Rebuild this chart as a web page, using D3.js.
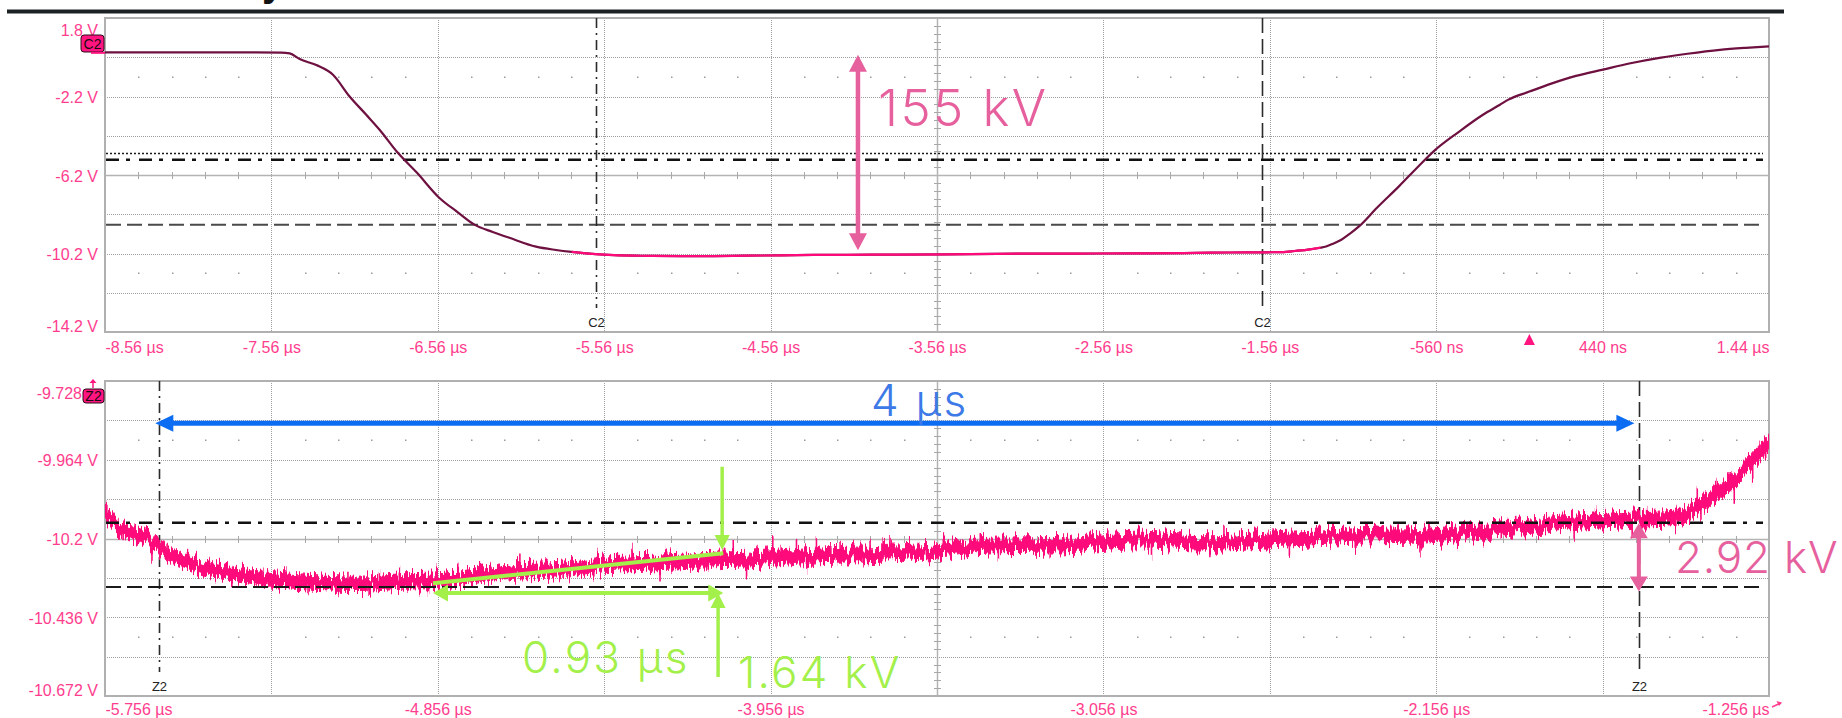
<!DOCTYPE html>
<html>
<head>
<meta charset="utf-8">
<script src="https://cdn.jsdelivr.net/npm/d3@7"></script>
<style>
  html, body { margin: 0; padding: 0; background: #ffffff; }
  svg { display: block; }
</style>
</head>
<body>
<svg id="chart" width="1842" height="718"></svg>
<script>
// ---------- Channel C2: full record (time in µs, level in V) ----------
const c2Time = [-8.56, -8.2, -7.8, -7.5, -7.45, -7.39, -7.29, -7.19, -7.09, -6.99, -6.91, -6.80,
  -6.685, -6.55, -6.44, -6.34, -6.23, -6.13, -5.97, -5.85, -5.756, -5.61, -5.5, -5.3, -5.1, -4.9,
  -4.7, -4.5, -4.3, -4.1, -3.8, -3.5, -3.2, -2.9, -2.6, -2.3, -2.0, -1.8, -1.608, -1.5, -1.43,
  -1.37, -1.31, -1.256, -1.222, -1.18, -1.13, -1.08, -1.024, -0.916, -0.784, -0.675, -0.564,
  -0.432, -0.279, -0.177, -0.126, 0.0, 0.136, 0.28, 0.442, 0.6, 0.791, 0.95, 1.145, 1.3, 1.44];
const c2Volt = [0.05, 0.05, 0.05, 0.04, 0.0, -0.29, -0.6, -1.09, -2.2, -3.13, -3.89, -5.07,
  -6.09, -7.37, -8.1, -8.73, -9.1, -9.40, -9.85, -10.02, -10.12, -10.235, -10.284, -10.32, -10.335, -10.33,
  -10.31, -10.295, -10.275, -10.265, -10.255, -10.24, -10.215, -10.205, -10.2, -10.195, -10.17, -10.15, -10.14, -10.13, -10.09,
  -10.045, -9.975, -9.905, -9.84, -9.7, -9.50, -9.2, -8.82, -7.87, -6.78, -5.83, -4.91,
  -4.05, -3.13, -2.62, -2.36, -1.95, -1.53, -1.15, -0.83, -0.52, -0.22, -0.02, 0.18, 0.28, 0.35];

// ---------- Zoom Z2 of the flat top: dense core of the noisy trace (µs, V) ----------
const z2Time = [-5.756, -5.714, -5.653, -5.611, -5.557, -5.497, -5.413, -5.315, -5.195, -5.075,
  -4.953, -4.857, -4.772, -4.652, -4.53, -4.41, -4.29, -4.168, -4.012, -3.832, -3.652, -3.517,
  -3.36, -3.163, -2.966, -2.768, -2.572, -2.375, -2.178, -1.98, -1.783, -1.608, -1.508, -1.43,
  -1.37, -1.31, -1.256];
const z2Low = [-10.142, -10.195, -10.215, -10.255, -10.279, -10.304, -10.324, -10.342, -10.352, -10.356,
  -10.349, -10.347, -10.334, -10.319, -10.315, -10.300, -10.295, -10.289, -10.285, -10.270, -10.265, -10.257,
  -10.240, -10.237, -10.225, -10.232, -10.223, -10.214, -10.210, -10.190, -10.170, -10.160, -10.155, -10.112,
  -10.067, -9.997, -9.927];
const z2High = [-10.102, -10.155, -10.175, -10.214, -10.239, -10.264, -10.284, -10.301, -10.311, -10.316,
  -10.309, -10.306, -10.294, -10.279, -10.275, -10.259, -10.254, -10.249, -10.244, -10.229, -10.224, -10.217,
  -10.199, -10.197, -10.184, -10.192, -10.182, -10.174, -10.169, -10.150, -10.130, -10.120, -10.115, -10.068,
  -10.023, -9.953, -9.883];

// Noise excursions that stand out of the core (µs, V)
const z2SpikeTime = [-5.751, -5.721, -5.707, -5.678, -5.629, -5.629, -5.588, -5.58, -5.533, -5.486, -5.472,
  -5.413, -5.413, -5.329, -5.315, -5.267, -5.207, -5.123, -5.099, -5.045, -5.014, -4.96, -4.953, -4.881,
  -4.857, -4.802, -4.785, -4.712, -4.663, -4.634, -4.556, -4.556, -4.517, -4.443, -4.434, -4.426, -4.399,
  -4.331, -4.326, -4.255, -4.237, -4.228, -4.129, -4.088, -4.057, -4.021, -3.993, -3.95, -3.949, -3.931,
  -3.886, -3.859, -3.853, -3.832, -3.793, -3.778, -3.768, -3.706, -3.694, -3.687, -3.655, -3.652, -3.633,
  -3.576, -3.561, -3.556, -3.535, -3.489, -3.389, -3.34, -3.3, -3.2, -3.163, -3.044, -2.926, -2.887,
  -2.768, -2.73, -2.611, -2.553, -2.455, -2.375, -2.317, -2.2, -2.178, -2.06, -1.98, -1.941, -1.824,
  -1.783, -1.725, -1.646, -1.626, -1.587, -1.508, -1.508, -1.45, -1.44, -1.40, -1.35, -1.33, -1.30,
  -1.28, -1.265];
const z2SpikeVolt = [-10.090, -10.135, -10.22, -10.154, -10.195, -10.264, -10.21, -10.254, -10.24, -10.304, -10.264,
  -10.279, -10.334, -10.284, -10.349, -10.289, -10.379, -10.364, -10.294, -10.379, -10.289, -10.284, -10.364, -10.364,
  -10.294, -10.284, -10.354, -10.279, -10.329, -10.254, -10.264, -10.324, -10.324, -10.304, -10.314, -10.249, -10.254,
  -10.234, -10.24, -10.314, -10.239, -10.244, -10.294, -10.229, -10.219, -10.314, -10.234, -10.205, -10.284, -10.219,
  -10.204, -10.294, -10.279, -10.199, -10.205, -10.279, -10.204, -10.284, -10.274, -10.204, -10.199, -10.274, -10.204,
  -10.264, -10.219, -10.21, -10.274, -10.199, -10.175, -10.269, -10.185, -10.254, -10.19, -10.175, -10.264, -10.185,
  -10.244, -10.165, -10.17, -10.249, -10.175, -10.234, -10.17, -10.239, -10.16, -10.16, -10.214, -10.135, -10.145,
  -10.195, -10.115, -10.124, -10.195, -10.105, -10.105, -10.175, -10.05, -10.15, -10.03, -10.09, -9.97, -10.03,
  -9.90, -9.96];

// ---------- Axis ticks ----------
const c2TimeTicks = [-8.56, -7.56, -6.56, -5.56, -4.56, -3.56, -2.56, -1.56, -0.56, 0.44, 1.44];
const c2TimeLabels = ["-8.56 µs", "-7.56 µs", "-6.56 µs", "-5.56 µs", "-4.56 µs", "-3.56 µs",
  "-2.56 µs", "-1.56 µs", "-560 ns", "440 ns", "1.44 µs"];
const c2VoltTicks = [1.8, -2.2, -6.2, -10.2, -14.2];
const c2VoltLabels = ["1.8 V", "-2.2 V", "-6.2 V", "-10.2 V", "-14.2 V"];
const z2TimeTicks = [-5.756, -4.856, -3.956, -3.056, -2.156, -1.256];
const z2TimeLabels = ["-5.756 µs", "-4.856 µs", "-3.956 µs", "-3.056 µs", "-2.156 µs", "-1.256 µs"];
const z2VoltTicks = [-9.728, -9.964, -10.2, -10.436, -10.672];
const z2VoltLabels = ["-9.728", "-9.964 V", "-10.2 V", "-10.436 V", "-10.672 V"];

// ---------- Cursors ----------
const cursorTimes = [-5.611, -1.608];          // time cursors (both panels)
const c2CursorLevels = [-5.10, -5.42, -8.73];  // dotted, dash-dot, dashed
const z2CursorLevels = [-10.1527, -10.3453];   // dash-dot, dashed
const triggerTime = [0];

// ---------- Annotations ----------
const swingLabel = ["155 kV"];
const swingArrowTime = [-4.035];
const swingArrowVolt = [-0.07, -10.04];
const spanLabel = ["4 µs"];
const spanArrowTime = [-5.62];
const spanArrowLength = [4];
const spanArrowVolt = [-9.8548];
const droopLabel = ["2.92 kV"];
const droopArrowTime = [-1.608];
const droopArrowVolt = [-10.1545, -10.359];
const slopeTime = [-4.869, -4.084];
const slopeVolt = [-10.334, -10.244];
const riseTimeLabel = ["0.93 µs"];
const riseArrowVolt = [-10.3633];
const riseStepLabel = ["1.64 kV"];
const downArrowTime = [-4.087];
const downArrowVolt = [-9.985, -10.2345];
const upArrowTime = [-4.098];
const upArrowVolt = [-10.615, -10.3633];

// ---------- Styling ----------
const PINK_LABEL = "#ff3d8e";
const TRACE_PINK = "#ff0a7a";
const TRACE_DARK = "#6e1040";
const ANN_PINK = "#e6609e";
const ANN_BLUE = "#0c6df2";
const ANN_BLUE_TEXT = "#3d7ae8";
const ANN_GREEN = "#a3f04a";
const AXIS_FONT = "'Liberation Sans', Arial, sans-serif";
const ANN_FONT = "Inter, 'Noto Sans', sans-serif";

const svg = d3.select("#chart");

// Header rule and the tail of the page title above the figure
svg.append("text").attr("x", 262).attr("y", -4)
  .attr("font-family", AXIS_FONT).attr("font-weight", "bold").attr("font-size", 40)
  .attr("fill", "#111").text("y");
svg.append("rect").attr("x", 7).attr("y", 9.5).attr("width", 1777).attr("height", 4).attr("fill", "#1c2124");

const panelTop = { x0: 105, x1: 1769, y0: 18, y1: 332 };
const panelBot = { x0: 105, x1: 1769, y0: 381, y1: 696 };

const xTop = d3.scaleLinear().domain([c2TimeTicks[0], c2TimeTicks[c2TimeTicks.length - 1]]).range([panelTop.x0, panelTop.x1]);
const yTop = d3.scaleLinear().domain([c2VoltTicks[c2VoltTicks.length - 1], c2VoltTicks[0]]).range([panelTop.y1, panelTop.y0]);
const xBot = d3.scaleLinear().domain([z2TimeTicks[0], z2TimeTicks[z2TimeTicks.length - 1]]).range([panelBot.x0, panelBot.x1]);
const yBot = d3.scaleLinear().domain([z2VoltTicks[z2VoltTicks.length - 1], z2VoltTicks[0]]).range([panelBot.y1, panelBot.y0]);

// Oscilloscope graticule: 10 x 8 divisions, dotted lines, solid centre axes with sub-ticks
function graticule(p) {
  const g = svg.append("g");
  const dx = (p.x1 - p.x0) / 10, dy = (p.y1 - p.y0) / 8;
  for (let i = 1; i < 10; i++) {
    const x = Math.round(p.x0 + i * dx) + 0.5;
    g.append("line").attr("x1", x).attr("x2", x).attr("y1", p.y0).attr("y2", p.y1)
      .attr("stroke", i === 5 ? "#b4b4b4" : "#a0a0a0").attr("stroke-width", i === 5 ? 1.5 : 1)
      .attr("stroke-dasharray", i === 5 ? null : "1,1");
  }
  for (let j = 1; j < 8; j++) {
    const y = Math.round(p.y0 + j * dy) + 0.5;
    g.append("line").attr("x1", p.x0).attr("x2", p.x1).attr("y1", y).attr("y2", y)
      .attr("stroke", j === 4 ? "#b4b4b4" : "#a0a0a0").attr("stroke-width", j === 4 ? 1.5 : 1)
      .attr("stroke-dasharray", j === 4 ? null : "1,1");
  }
  const cy = Math.round(p.y0 + 4 * dy) + 0.5;
  const cx = Math.round(p.x0 + 5 * dx) + 0.5;
  for (let k = 1; k < 50; k++) {
    if (k % 5 === 0) continue;
    const x = Math.round(p.x0 + k * dx / 5) + 0.5;
    g.append("line").attr("x1", x).attr("x2", x).attr("y1", cy - 3.5).attr("y2", cy + 3.5)
      .attr("stroke", "#a8a8a8").attr("stroke-width", 1);
    [1.5, 6.5].forEach(r => {
      g.append("rect").attr("x", x - 0.5).attr("y", Math.round(p.y0 + r * dy) - 0.5)
        .attr("width", 1.5).attr("height", 1.5).attr("fill", "#9a9a9a");
    });
  }
  for (let k = 1; k < 40; k++) {
    if (k % 5 === 0) continue;
    const y = Math.round(p.y0 + k * dy / 5) + 0.5;
    g.append("line").attr("x1", cx - 3.5).attr("x2", cx + 3.5).attr("y1", y).attr("y2", y)
      .attr("stroke", "#a8a8a8").attr("stroke-width", 1);
  }
  g.append("rect").attr("x", p.x0).attr("y", p.y0).attr("width", p.x1 - p.x0).attr("height", p.y1 - p.y0)
    .attr("fill", "none").attr("stroke", "#b0b0b0").attr("stroke-width", 2);
}
graticule(panelTop);
graticule(panelBot);

// Axis labels
function styleAxisText(sel) {
  sel.attr("font-family", AXIS_FONT).attr("font-size", 16).attr("fill", PINK_LABEL);
}
function timeAxis(scale, ticks, labels, p, pad) {
  const g = svg.append("g").attr("transform", `translate(0,${p.y1})`)
    .call(d3.axisBottom(scale).tickValues(ticks).tickFormat((d, i) => labels[i]).tickSize(0).tickPadding(pad));
  g.select(".domain").remove();
  g.selectAll("text").call(styleAxisText)
    .attr("text-anchor", (d, i) => i === 0 ? "start" : (i === ticks.length - 1 ? "end" : "middle"));
  return g;
}
function voltAxis(scale, ticks, labels, p, firstDy, lastDy, firstX) {
  const g = svg.append("g").attr("transform", `translate(${p.x0},0)`)
    .call(d3.axisLeft(scale).tickValues(ticks).tickFormat((d, i) => labels[i]).tickSize(0).tickPadding(7));
  g.select(".domain").remove();
  g.selectAll("text").call(styleAxisText)
    .attr("dy", (d, i) => i === 0 ? firstDy : (i === ticks.length - 1 ? lastDy : 6))
    .attr("x", (d, i) => i === 0 && firstX !== undefined ? firstX : -7);
  return g;
}
timeAxis(xTop, c2TimeTicks, c2TimeLabels, panelTop, 9.5);
voltAxis(yTop, c2VoltTicks, c2VoltLabels, panelTop, 17, -0.5);
timeAxis(xBot, z2TimeTicks, z2TimeLabels, panelBot, 7.3);
voltAxis(yBot, z2VoltTicks, z2VoltLabels, panelBot, 17.5, -1, -23);

// small roll arrow after the last zoom time label
svg.append("path")
  .attr("d", `M${panelBot.x1 + 3},${panelBot.y1 + 11} L${panelBot.x1 + 12},${panelBot.y1 + 7}`)
  .attr("stroke", PINK_LABEL).attr("stroke-width", 1.5).attr("fill", "none");
svg.append("path")
  .attr("d", `M${panelBot.x1 + 13},${panelBot.y1 + 6.5} l-5.5,-1.5 l2.5,5 z`)
  .attr("fill", PINK_LABEL);

// Clip paths for each panel, and a grain filter giving the zoom trace its sampled, jittery edge
const defs = svg.append("defs");
[["clipTop", panelTop], ["clipBot", panelBot]].forEach(([id, p]) => {
  defs.append("clipPath").attr("id", id).append("rect")
    .attr("x", p.x0).attr("y", p.y0).attr("width", p.x1 - p.x0).attr("height", p.y1 - p.y0);
});
const grain = defs.append("filter").attr("id", "traceGrain").attr("filterUnits", "userSpaceOnUse")
  .attr("color-interpolation-filters", "sRGB")
  .attr("x", panelBot.x0 - 10).attr("y", panelBot.y0).attr("width", panelBot.x1 - panelBot.x0 + 20)
  .attr("height", panelBot.y1 - panelBot.y0);
grain.append("feTurbulence").attr("type", "fractalNoise").attr("baseFrequency", "0.42 0.012")
  .attr("numOctaves", 3).attr("seed", 7).attr("result", "noise");
grain.append("feColorMatrix").attr("in", "noise").attr("type", "matrix")
  .attr("values", "0 0 0 0 0.5  0 1 0 0 0  0 0 1 0 0  0 0 0 0 1").attr("result", "shiftY");
grain.append("feDisplacementMap").attr("in", "SourceGraphic").attr("in2", "shiftY")
  .attr("scale", 24).attr("xChannelSelector", "R").attr("yChannelSelector", "G");

// Horizontal level cursors
const lineStyles = {
  dotted: { dash: "2,2", width: 1.5, color: "#1a1a1a" },
  dashDot: { dash: "13,7,4,9", width: 2.6, color: "#111" },
  dashed: { dash: "15,6", width: 2, color: "#4a4a4a" }
};
function hLevel(p, y, st, color) {
  svg.append("line").attr("x1", p.x0 + 1).attr("x2", p.x1 - 6).attr("y1", y).attr("y2", y)
    .attr("stroke", color || st.color).attr("stroke-width", st.width).attr("stroke-dasharray", st.dash);
}
hLevel(panelTop, yTop(c2CursorLevels[0]), lineStyles.dotted);
hLevel(panelTop, yTop(c2CursorLevels[1]), lineStyles.dashDot);
hLevel(panelTop, yTop(c2CursorLevels[2]), lineStyles.dashed);

// Vertical time cursors with their channel tags
function vCursors(p, scale, tag) {
  cursorTimes.forEach((t, i) => {
    const x = Math.round(scale(t)) + 0.5;
    svg.append("line").attr("x1", x).attr("x2", x).attr("y1", p.y0).attr("y2", p.y1 - 24)
      .attr("stroke", "#2a2a2a").attr("stroke-width", 1.6)
      .attr("stroke-dasharray", i === 0 ? "10,5,2,5" : "15,6");
    svg.append("text").attr("x", x).attr("y", p.y1 - 5).attr("text-anchor", "middle")
      .attr("font-family", AXIS_FONT).attr("font-size", 13).attr("fill", "#222").text(tag);
  });
}
vCursors(panelTop, xTop, "C2");
vCursors(panelBot, xBot, "Z2");

// Channel C2 trace: whole record dark, the zoomed window highlighted
const c2Points = c2Time.map((t, i) => [t, c2Volt[i]]);
const c2Line = d3.line().x(d => xTop(d[0])).y(d => yTop(d[1])).curve(d3.curveMonotoneX);
svg.append("path").attr("clip-path", "url(#clipTop)").attr("d", c2Line(c2Points))
  .attr("fill", "none").attr("stroke", TRACE_DARK).attr("stroke-width", 2.2).attr("stroke-linejoin", "round");
const zWin = [z2TimeTicks[0], z2TimeTicks[z2TimeTicks.length - 1]];
svg.append("path").attr("clip-path", "url(#clipTop)")
  .attr("d", c2Line(c2Points.filter(d => d[0] >= zWin[0] && d[0] <= zWin[1])))
  .attr("fill", "none").attr("stroke", TRACE_PINK).attr("stroke-width", 2.2);

// Zoom trace: dense core of the noisy record plus its stand-out excursions
const z2Points = z2Time.map((t, i) => ({ t, lo: z2Low[i], hi: z2High[i] }));
const z2Area = d3.area().x(d => xBot(d.t)).y0(d => yBot(d.lo)).y1(d => yBot(d.hi)).curve(d3.curveMonotoneX);
const z2Mid = d3.scaleLinear().domain(z2Time).range(z2Time.map((t, i) => (z2Low[i] + z2High[i]) / 2));
const zClip = svg.append("g").attr("clip-path", "url(#clipBot)");
const zg = zClip.append("g").attr("filter", "url(#traceGrain)");
zg.selectAll("line.spike").data(z2SpikeTime.map((t, i) => ({ t, v: z2SpikeVolt[i] })))
  .join("line").attr("class", "spike")
  .attr("x1", d => xBot(d.t)).attr("x2", d => xBot(d.t))
  .attr("y1", d => yBot(z2Mid(d.t))).attr("y2", d => yBot(d.v))
  .attr("stroke", TRACE_PINK).attr("stroke-width", 1.6);
zg.append("path").attr("d", z2Area(z2Points))
  .attr("fill", TRACE_PINK).attr("stroke", TRACE_PINK).attr("stroke-width", 1);

// Level cursors of the zoom drawn over the trace
hLevel(panelBot, yBot(z2CursorLevels[0]), lineStyles.dashDot);
hLevel(panelBot, yBot(z2CursorLevels[1]), lineStyles.dashed, "#1a1a1a");

// Channel / zoom offset tags on the left edge
function tag(x, y, w, h, label) {
  svg.append("rect").attr("x", x).attr("y", y).attr("width", w).attr("height", h).attr("rx", 3)
    .attr("fill", "#ff1480").attr("stroke", "#2a0a18").attr("stroke-width", 1);
  svg.append("text").attr("x", x + w / 2).attr("y", y + h / 2 + 5).attr("text-anchor", "middle")
    .attr("font-family", AXIS_FONT).attr("font-size", 14).attr("fill", "#1a0a10").text(label);
}
tag(81, 35, 23, 17, "C2");
svg.append("line").attr("x1", 91).attr("x2", panelTop.x0).attr("y1", yTop(c2Volt[0]) + 0.5).attr("y2", yTop(c2Volt[0]) + 0.5)
  .attr("stroke", "#ff1480").attr("stroke-width", 2);
tag(83, 389, 21, 14, "Z2");
svg.append("path").attr("d", "M93,379 l-3.5,4 h7 z").attr("fill", "#ff1480");
svg.append("line").attr("x1", 93).attr("x2", 93).attr("y1", 382).attr("y2", 388).attr("stroke", "#ff1480").attr("stroke-width", 1.5);

// Trigger marker
triggerTime.forEach(t => {
  const x = xTop(t);
  svg.append("path").attr("d", `M${x},${panelTop.y1 + 2} L${x + 5.5},${panelTop.y1 + 13} L${x - 5.5},${panelTop.y1 + 13} Z`)
    .attr("fill", "#ff1480");
});

// ---------- Annotation arrows ----------
function arrow(x1, y1, x2, y2, color, width, headLen, headW, both) {
  const g = svg.append("g");
  const ang = Math.atan2(y2 - y1, x2 - x1);
  const ux = Math.cos(ang), uy = Math.sin(ang);
  const sx1 = both ? x1 + ux * headLen * 0.8 : x1, sy1 = both ? y1 + uy * headLen * 0.8 : y1;
  const sx2 = x2 - ux * headLen * 0.8, sy2 = y2 - uy * headLen * 0.8;
  g.append("line").attr("x1", sx1).attr("y1", sy1).attr("x2", sx2).attr("y2", sy2)
    .attr("stroke", color).attr("stroke-width", width);
  const head = (tx, ty, dx, dy) => {
    const bx = tx - dx * headLen, by = ty - dy * headLen;
    const px = -dy * headW / 2, py = dx * headW / 2;
    g.append("path").attr("d", `M${tx},${ty} L${bx + px},${by + py} L${bx - px},${by - py} Z`).attr("fill", color);
  };
  head(x2, y2, ux, uy);
  if (both) head(x1, y1, -ux, -uy);
}
function annText(x, y, size, color, txt, spacing) {
  svg.append("text").attr("x", x).attr("y", y).attr("font-family", ANN_FONT).attr("font-weight", 300)
    .attr("font-size", size).attr("letter-spacing", spacing).attr("fill", color).text(txt);
}

// 155 kV swing
arrow(xTop(swingArrowTime[0]), yTop(swingArrowVolt[0]), xTop(swingArrowTime[0]), yTop(swingArrowVolt[1]),
  ANN_PINK, 4.5, 17, 18, true);
annText(xTop(swingArrowTime[0]) + 20, yTop(-3.69), 51, ANN_PINK, swingLabel[0], 2.4);

// 4 µs flat-top span
arrow(xBot(spanArrowTime[0]), yBot(spanArrowVolt[0]), xBot(spanArrowTime[0] + spanArrowLength[0]), yBot(spanArrowVolt[0]),
  ANN_BLUE, 5, 18, 17, true);
annText(xBot(-3.6845), yBot(-9.834), 44, ANN_BLUE_TEXT, spanLabel[0], 2.2);

// 2.92 kV droop
arrow(xBot(droopArrowTime[0]), yBot(droopArrowVolt[0]), xBot(droopArrowTime[0]), yBot(droopArrowVolt[1]),
  ANN_PINK, 4, 15, 18, true);
annText(xBot(-1.51), yBot(-10.3034), 44, ANN_PINK, droopLabel[0], 0.8);

// Recovery slope and its time / voltage extents
svg.append("line").attr("x1", xBot(slopeTime[0])).attr("y1", yBot(slopeVolt[0]))
  .attr("x2", xBot(slopeTime[1])).attr("y2", yBot(slopeVolt[1]))
  .attr("stroke", ANN_GREEN).attr("stroke-width", 4);
arrow(xBot(slopeTime[0]), yBot(riseArrowVolt[0]), xBot(slopeTime[1]), yBot(riseArrowVolt[0]),
  ANN_GREEN, 4, 15, 17, true);
annText(xBot(-4.628), yBot(-10.604), 44, ANN_GREEN, riseTimeLabel[0], 2.2);
arrow(xBot(downArrowTime[0]), yBot(downArrowVolt[0]), xBot(downArrowTime[0]), yBot(downArrowVolt[1]),
  ANN_GREEN, 3.5, 15, 15, false);
arrow(xBot(upArrowTime[0]), yBot(upArrowVolt[0]), xBot(upArrowTime[0]), yBot(upArrowVolt[1]),
  ANN_GREEN, 3.5, 15, 15, false);
annText(xBot(-4.044), yBot(-10.649), 44, ANN_GREEN, riseStepLabel[0], 2.2);
</script>
</body>
</html>
